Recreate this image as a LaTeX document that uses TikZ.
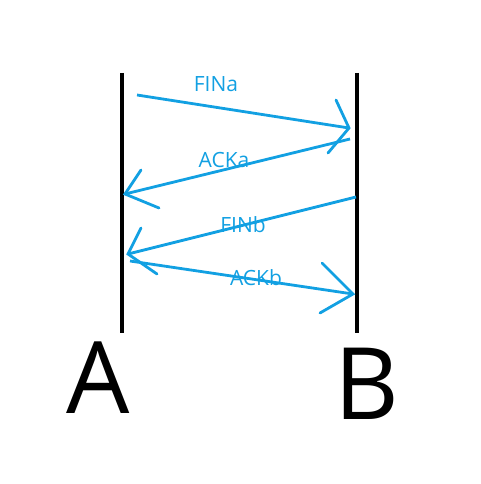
\documentclass[tikz,border=0pt]{standalone}
\usepackage{fontspec}
\setmainfont{Open Sans}
\usetikzlibrary{positioning}
\definecolor{msgblue}{RGB}{18,160,226}

\begin{document}
\begin{tikzpicture}[x=1pt, y=-1pt,
    life/.style={draw=black, line width=4pt},
    msg/.style={draw=msgblue, line width=2.8pt},
    barb/.style={draw=msgblue, line width=2.8pt, line cap=round},
    lbl/.style={text=msgblue, font=\fontsize{21}{21}\selectfont, inner sep=0pt},
    host/.style={font=\fontsize{100}{100}\selectfont, inner sep=0pt}]
    \useasboundingbox (0,0) rectangle (480,484);

    % lifelines
    \coordinate (Atop) at (122,73);
    \coordinate (Abot) at (122,333);
    \coordinate (Btop) at (357,73);
    \coordinate (Bbot) at (357,333);
    \draw[life] (Atop) -- (Abot);
    \draw[life] (Btop) -- (Bbot);
    \node[host] (A) at (98,378) {A};
    \node[host] (B) at (367,384) {B};

    % message end points
    \coordinate (fina-s) at (137,95);
    \coordinate (fina-e) at (349,128);
    \coordinate (acka-s) at (350,139);
    \coordinate (acka-e) at (125,194);
    \coordinate (finb-s) at (356,197);
    \coordinate (finb-e) at (128,254);
    \coordinate (ackb-s) at (130,261);
    \coordinate (ackb-e) at (353,294);

    \draw[msg] (fina-s) -- (fina-e);
    \draw[barb] (336,100) -- (fina-e) -- (328,153);
    \draw[msg] (acka-s) -- (acka-e);
    \draw[barb] (141,170) -- (acka-e) -- (159,208);
    \draw[msg] (finb-s) -- (finb-e);
    \draw[barb] (141,228) -- (finb-e) -- (157,274);
    \draw[msg] (ackb-s) -- (ackb-e);
    \draw[barb] (322,263) -- (ackb-e) -- (320,313);

    % labels
    \node[lbl] (fina) at (216,84) {FINa};
    \node[lbl] (acka) at (224,160) {ACKa};
    \node[lbl] (finb) at (243,225) {FINb};
    \node[lbl] (ackb) at (256,278) {ACKb};
\end{tikzpicture}
\end{document}
